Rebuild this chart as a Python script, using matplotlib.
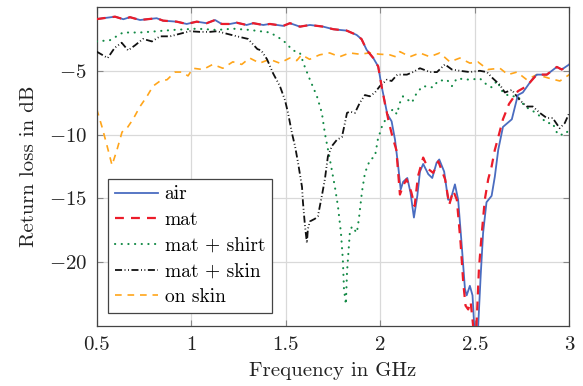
import matplotlib
matplotlib.use("Agg")
import matplotlib.pyplot as plt

plt.rcParams["font.family"] = ["cmr10"]
plt.rcParams["mathtext.fontset"] = "cm"
plt.rcParams["axes.formatter.use_mathtext"] = True
plt.rcParams["axes.unicode_minus"] = True

# Measured return loss (dB) versus frequency (GHz)
air_f = [0.50, 0.534, 0.597, 0.641, 0.676, 0.729, 0.817, 0.851, 0.923, 0.976, 1.029, 1.082,
         1.126, 1.161, 1.205, 1.240, 1.293, 1.328, 1.381, 1.416, 1.487, 1.522, 1.575, 1.628,
         1.698, 1.751, 1.787, 1.822, 1.875, 1.901, 1.928, 1.963, 1.989, 2.007, 2.025, 2.037,
         2.060, 2.078, 2.095, 2.108, 2.121, 2.143, 2.160, 2.178, 2.196, 2.210, 2.227, 2.254,
         2.275, 2.298, 2.312, 2.338, 2.359, 2.372, 2.395, 2.412, 2.430, 2.448, 2.457, 2.474,
         2.488, 2.497, 2.507, 2.518, 2.531, 2.544, 2.562, 2.589, 2.606, 2.624, 2.649, 2.696,
         2.728, 2.754, 2.802, 2.828, 2.881, 2.934, 2.960, 3.00]
air_db = [-0.95, -0.88, -0.76, -0.96, -0.80, -1.02, -0.88, -1.07, -1.15, -1.33, -1.15, -1.27,
          -1.02, -1.33, -1.33, -1.23, -1.41, -1.27, -1.41, -1.33, -1.48, -1.27, -1.54, -1.41,
          -1.54, -1.74, -1.80, -1.85, -2.19, -2.52, -3.36, -4.00, -4.66, -6.20, -7.50, -8.40,
          -8.96, -10.4, -12.5, -14.3, -13.7, -13.4, -14.55, -16.5, -14.8, -12.9, -12.3, -13.1,
          -13.4, -12.2, -11.95, -12.9, -15.1, -15.1, -13.9, -15.1, -18.5, -22.1, -22.6, -21.85,
          -22.6, -25.0, -27.0, -25.0, -21.1, -17.7, -15.3, -14.8, -13.3, -11.2, -9.4, -8.8,
          -6.9, -6.7, -5.7, -5.3, -5.3, -4.7, -4.9, -4.5]

mat_f = [0.50, 0.534, 0.597, 0.641, 0.676, 0.729, 0.817, 0.851, 0.923, 0.976, 1.029, 1.082,
         1.126, 1.161, 1.205, 1.240, 1.293, 1.328, 1.381, 1.416, 1.487, 1.522, 1.575, 1.628,
         1.698, 1.751, 1.787, 1.822, 1.875, 1.901, 1.928, 1.963, 1.989, 2.007, 2.025, 2.045,
         2.065, 2.085, 2.104, 2.121, 2.139, 2.164, 2.182, 2.199, 2.227, 2.254, 2.280, 2.307,
         2.343, 2.365, 2.386, 2.405, 2.425, 2.439, 2.451, 2.465, 2.478, 2.488, 2.498, 2.509,
         2.522, 2.536, 2.553, 2.571, 2.589, 2.606, 2.617, 2.649, 2.681, 2.728, 2.775, 2.828,
         2.881, 2.934, 2.960, 3.00]
mat_db = [-0.95, -0.88, -0.76, -0.96, -0.80, -1.02, -0.88, -1.07, -1.15, -1.33, -1.15, -1.27,
          -1.02, -1.33, -1.33, -1.23, -1.41, -1.27, -1.41, -1.33, -1.48, -1.27, -1.54, -1.41,
          -1.54, -1.74, -1.80, -1.85, -2.19, -2.52, -3.36, -4.00, -4.66, -6.20, -7.60, -9.0,
          -10.2, -11.2, -14.7, -14.0, -13.5, -14.5, -15.6, -13.3, -11.8, -12.7, -13.0, -12.1,
          -13.5, -15.5, -14.4, -15.1, -18.5, -21.6, -23.4, -23.7, -23.1, -24.5, -26.0, -25.0,
          -20.5, -17.9, -15.1, -13.5, -12.5, -11.2, -10.6, -8.8, -7.6, -6.6, -6.2, -5.3,
          -5.3, -4.7, -4.9, -4.5]

shirt_f = [0.50, 0.570, 0.639, 0.729, 0.819, 0.903, 1.030, 1.136, 1.221, 1.311, 1.417, 1.485,
           1.538, 1.575, 1.601, 1.628, 1.665, 1.691, 1.707, 1.734, 1.760, 1.776, 1.792, 1.802,
           1.808, 1.818, 1.824, 1.839, 1.850, 1.876, 1.887, 1.903, 1.919, 1.945, 1.972, 1.987,
           2.008, 2.035, 2.067, 2.088, 2.104, 2.120, 2.167, 2.194, 2.226, 2.279, 2.305, 2.353,
           2.379, 2.405, 2.474, 2.527, 2.564, 2.590, 2.617, 2.649, 2.685, 2.728, 2.765, 2.802,
           2.833, 2.881, 2.912, 2.939, 2.976, 3.00]
shirt_db = [-2.7, -2.6, -2.0, -2.0, -1.9, -1.8, -1.7, -1.8, -1.7, -1.8, -2.0, -2.6,
            -3.4, -3.6, -4.7, -5.7, -7.0, -8.3, -9.9, -12.0, -14.1, -15.6, -17.7, -19.8,
            -22.1, -23.3, -20.8, -17.7, -17.2, -17.7, -16.6, -14.5, -13.0, -12.0, -11.7, -10.4,
            -9.4, -8.6, -8.0, -8.4, -7.5, -7.0, -7.5, -6.7, -6.2, -6.3, -5.8, -5.7,
            -6.2, -5.6, -5.7, -5.6, -6.1, -6.3, -5.8, -6.7, -7.0, -7.0, -7.8, -8.1,
            -8.4, -9.1, -9.1, -10.0, -10.0, -9.6]

skin_f = [0.50, 0.558, 0.595, 0.632, 0.666, 0.703, 0.745, 0.792, 0.835, 0.888, 0.940, 0.993,
          1.046, 1.099, 1.136, 1.189, 1.242, 1.300, 1.350, 1.370, 1.401, 1.433, 1.469, 1.496,
          1.512, 1.533, 1.549, 1.565, 1.586, 1.591, 1.602, 1.612, 1.617, 1.628, 1.654, 1.670,
          1.691, 1.707, 1.723, 1.744, 1.771, 1.797, 1.813, 1.824, 1.839, 1.866, 1.892, 1.919,
          1.945, 1.972, 1.998, 2.035, 2.060, 2.090, 2.141, 2.173, 2.210, 2.263, 2.300, 2.342,
          2.379, 2.421, 2.474, 2.527, 2.564, 2.596, 2.633, 2.659, 2.696, 2.738, 2.775, 2.807,
          2.844, 2.881, 2.912, 2.949, 2.976, 3.00]
skin_db = [-3.5, -4.0, -3.2, -2.8, -3.4, -3.0, -2.5, -2.7, -2.3, -2.3, -2.1, -1.9,
           -1.95, -1.95, -1.9, -2.1, -2.3, -2.5, -3.3, -3.4, -4.1, -5.2, -6.2, -7.3,
           -8.3, -9.9, -10.9, -12.2, -14.1, -15.3, -17.2, -18.5, -17.4, -16.8, -16.6, -16.4,
           -14.8, -13.5, -11.7, -10.9, -10.4, -10.2, -9.1, -8.3, -8.2, -8.3, -7.5, -6.9,
           -7.0, -6.7, -6.2, -5.7, -5.8, -5.3, -5.3, -5.1, -4.8, -5.1, -5.1, -4.5,
           -4.9, -5.0, -5.1, -5.0, -5.1, -5.6, -6.1, -6.7, -6.5, -7.3, -7.8, -7.8,
           -8.3, -8.7, -8.7, -9.5, -9.1, -8.3]

onskin_f = [0.50, 0.528, 0.555, 0.581, 0.607, 0.634, 0.660, 0.692, 0.729, 0.766, 0.798, 0.835,
            0.872, 0.914, 0.951, 0.983, 1.009, 1.062, 1.114, 1.167, 1.220, 1.267, 1.309, 1.362,
            1.415, 1.468, 1.521, 1.558, 1.584, 1.626, 1.679, 1.732, 1.785, 1.838, 1.891, 1.944,
            1.997, 2.050, 2.082, 2.104, 2.157, 2.209, 2.262, 2.315, 2.368, 2.421, 2.474, 2.516,
            2.569, 2.633, 2.675, 2.723, 2.775, 2.828, 2.897, 2.950, 3.00]
onskin_db = [-8.0, -9.4, -10.9, -12.4, -11.2, -9.8, -9.5, -8.8, -7.8, -7.0, -6.2, -5.8,
             -5.7, -5.1, -5.1, -5.4, -4.8, -4.9, -4.5, -4.8, -4.3, -4.5, -4.0, -4.4,
             -4.1, -4.4, -4.0, -4.2, -3.75, -4.1, -3.75, -3.6, -3.9, -3.6, -3.7, -3.6,
             -3.7, -3.75, -3.9, -3.5, -3.9, -3.6, -3.9, -3.6, -4.3, -4.0, -4.4, -4.3,
             -4.9, -4.8, -5.3, -5.1, -5.7, -5.3, -5.6, -5.8, -5.3]

x_ticks = [0.5, 1, 1.5, 2, 2.5, 3]
x_tick_labels = ["0.5", "1", "1.5", "2", "2.5", "3"]
y_ticks = [-5, -10, -15, -20]

fig = plt.figure(figsize=(5.83, 3.86), dpi=100)
ax = fig.add_axes([0.1659, 0.1554, 0.8106, 0.8265])

ax.plot(air_f, air_db, color="#4a6cc0", lw=1.3, label="air", zorder=4)
ax.plot(mat_f, mat_db, color="#ec1c2a", lw=1.6, ls=(0, (4, 3.2)), label="mat", zorder=5)
ax.plot(shirt_f, shirt_db, color="#138a46", lw=1.5, ls=(0, (0.1, 3.1)),
        dash_capstyle="round", label="mat + shirt", zorder=3)
ax.plot(skin_f, skin_db, color="#111111", lw=1.3, ls=(0, (3.9, 1.4, 0.5, 1.4, 0.5, 1.4)),
        label="mat + skin", zorder=3)
ax.plot(onskin_f, onskin_db, color="#ffa51a", lw=1.2, ls=(0, (4, 3.5)),
        label="on skin", zorder=2)

ax.set_xlim(0.5, 3)
ax.set_ylim(-25, 0)
ax.set_xticks(x_ticks)
ax.set_xticklabels(x_tick_labels)
ax.set_yticks(y_ticks)
ax.grid(True, color="#d9d9d9", lw=0.9)
ax.set_axisbelow(True)
ax.tick_params(direction="in", length=4, width=0.8, colors="#888888",
               top=True, right=True, labelsize=15, labelcolor="#222222", pad=7)
for s in ax.spines.values():
    s.set_color("#444444")
    s.set_linewidth(0.9)

ax.set_xlabel("Frequency in GHz", fontsize=15, color="#222222", labelpad=6)
ax.set_ylabel("Return loss in dB", fontsize=15, color="#222222", labelpad=8)

leg = ax.legend(loc="lower left", bbox_to_anchor=(0.024, 0.041), borderaxespad=0,
                fontsize=14, fancybox=False, edgecolor="#444444", framealpha=1,
                handlelength=2.2, handletextpad=0.36, labelspacing=0.4,
                borderpad=0.35)
leg.get_frame().set_linewidth(0.9)

fig.savefig("out.png", dpi=100)
